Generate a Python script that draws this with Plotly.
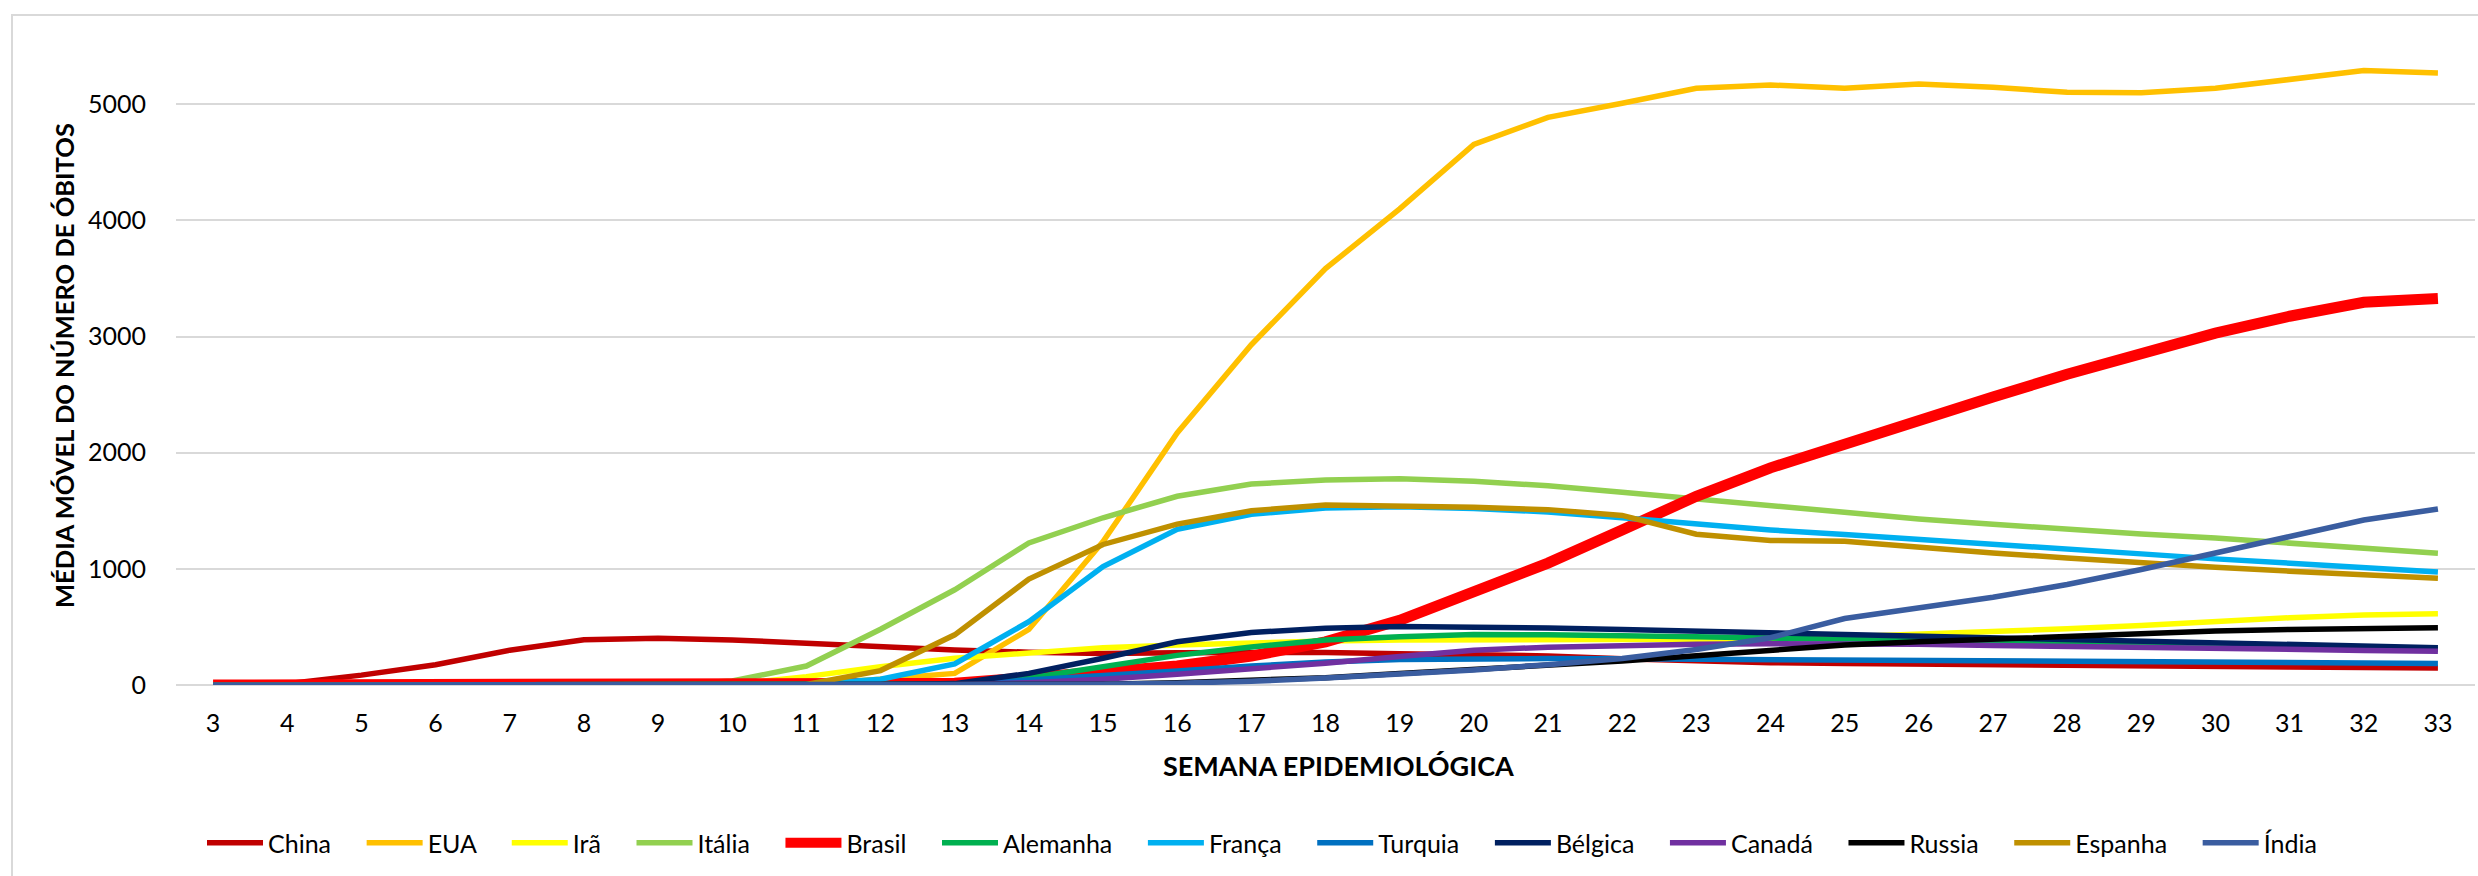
import plotly.graph_objects as go

weeks = list(range(3, 34))

china    = [0, 12, 85, 175, 300, 390, 402, 388, 360, 326, 302, 282, 272, 278, 284, 280, 270, 264, 250, 225, 205, 192, 185, 178, 172, 167, 162, 158, 154, 150, 146]
eua      = [0, 0, 0, 0, 0, 0, 0, 0, 8, 50, 100, 478, 1235, 2170, 2930, 3585, 4100, 4655, 4888, 5009, 5138, 5166, 5138, 5175, 5146, 5103, 5100, 5138, 5215, 5290, 5270]
ira      = [0, 0, 0, 0, 0, 0, 0, 5, 72, 158, 231, 280, 320, 345, 365, 378, 387, 388, 386, 382, 384, 395, 415, 437, 452, 484, 513, 550, 579, 602, 613]
italia   = [0, 0, 0, 0, 0, 0, 0, 35, 163, 480, 820, 1223, 1440, 1625, 1730, 1765, 1775, 1755, 1715, 1660, 1600, 1545, 1490, 1430, 1385, 1340, 1300, 1265, 1225, 1180, 1135]
brasil   = [0, 0, 0, 0, 0, 0, 0, 0, 0, 2, 15, 62, 110, 163, 249, 372, 557, 800, 1050, 1335, 1625, 1870, 2080, 2290, 2480, 2675, 2860, 3030, 3175, 3295, 3328]
alemanha = [0, 0, 0, 0, 0, 0, 0, 0, 0, 2, 8, 60, 163, 255, 327, 387, 415, 435, 432, 427, 415, 404, 392, 385, 372, 360, 348, 337, 326, 316, 306]
franca   = [0, 0, 0, 0, 0, 0, 0, 0, 5, 50, 182, 545, 1020, 1340, 1470, 1525, 1535, 1520, 1490, 1440, 1385, 1335, 1295, 1255, 1218, 1172, 1129, 1086, 1046, 1009, 974]
turquia  = [0, 0, 0, 0, 0, 0, 0, 0, 0, 0, 5, 43, 77, 120, 163, 198, 220, 229, 228, 226, 222, 218, 215, 212, 210, 205, 202, 198, 195, 190, 186]
belgica  = [0, 0, 0, 0, 0, 0, 0, 0, 0, 2, 12, 100, 230, 372, 452, 488, 503, 499, 490, 477, 462, 446, 432, 417, 402, 386, 371, 358, 347, 335, 321]
canada   = [0, 0, 0, 0, 0, 0, 0, 0, 0, 0, 3, 20, 50, 92, 137, 188, 246, 300, 325, 340, 350, 356, 358, 350, 341, 330, 321, 312, 306, 298, 290]
russia   = [0, 0, 0, 0, 0, 0, 0, 0, 0, 0, 0, 2, 6, 20, 36, 63, 100, 135, 166, 206, 252, 298, 345, 372, 395, 421, 444, 464, 478, 490, 493]
espanha  = [0, 0, 0, 0, 0, 0, 0, 0, 5, 124, 432, 912, 1210, 1385, 1500, 1550, 1545, 1530, 1510, 1460, 1298, 1244, 1238, 1182, 1137, 1094, 1051, 1014, 980, 951, 920]
india    = [0, 0, 0, 0, 0, 0, 0, 0, 0, 0, 0, 3, 6, 16, 32, 60, 94, 130, 175, 228, 305, 407, 572, 665, 755, 865, 994, 1137, 1281, 1420, 1516]

names  = ["China", "EUA", "Irã", "Itália", "Brasil", "Alemanha", "França", "Turquia", "Bélgica", "Canadá", "Russia", "Espanha", "Índia"]
series = [china, eua, ira, italia, brasil, alemanha, franca, turquia, belgica, canada, russia, espanha, india]
colors = ["#C00000", "#FFC000", "#FFFF00", "#92D050", "#FF0000", "#00B050", "#00B0F0", "#0070C0", "#002060", "#7030A0", "#000000", "#BF9000", "#3A5DA0"]
widths = [5.5, 5.5, 5.5, 5.5, 11, 5.5, 5.5, 5.5, 5.5, 5.5, 5.5, 5.5, 5.5]

y_ticks = [0, 1000, 2000, 3000, 4000, 5000]

FONT = "Lato, 'Open Sans', sans-serif"
PAD = "\u00a0\u00a0\u00a0\u00a0"

fig = go.Figure()
for name, vals, col, w in zip(names, series, colors, widths):
    fig.add_trace(go.Scatter(
        x=weeks, y=vals, name=name + PAD, mode="lines",
        line=dict(color=col, width=w),
    ))

W, H = 2478, 876
L, R, T, B = 176, 3, 23, 191
pw, ph = W - L - R, H - T - B

def px(x):
    return (x - L) / pw

def py(y):
    return (H - B - y) / ph

fig.update_layout(
    width=W, height=H,
    margin=dict(l=L, r=R, t=T, b=B),
    paper_bgcolor="white", plot_bgcolor="white",
    font=dict(family=FONT, size=25, color="#000000"),
    showlegend=True,
    legend=dict(
        orientation="h", x=px(202), xanchor="left", y=py(843), yanchor="middle",
        font=dict(family=FONT, size=25, color="#000000"),
        itemwidth=56, bgcolor="rgba(0,0,0,0)", traceorder="normal",
    ),
    xaxis=dict(
        range=[2.5, 33.5], tickmode="array", tickvals=weeks,
        ticktext=[str(w) for w in weeks],
        showgrid=False, zeroline=False, showline=False,
        ticks="outside", ticklen=16, tickcolor="rgba(0,0,0,0)",
        tickfont=dict(family=FONT, size=25, color="#000000"),
    ),
    yaxis=dict(
        range=[0, 5700], tickmode="array", tickvals=y_ticks,
        ticktext=[str(v) for v in y_ticks],
        showgrid=True, gridcolor="#D9D9D9", gridwidth=2,
        zeroline=True, zerolinecolor="#D9D9D9", zerolinewidth=2,
        showline=False,
        ticks="outside", ticklen=24, tickcolor="rgba(0,0,0,0)",
        tickfont=dict(family=FONT, size=25, color="#000000"),
    ),
    shapes=[dict(
        type="rect", xref="paper", yref="paper",
        x0=px(12), x1=px(2495), y0=py(15), y1=py(900),
        line=dict(color="#D9D9D9", width=2), fillcolor="rgba(0,0,0,0)",
        layer="below",
    )],
    annotations=[
        dict(text="<b>MÉDIA MÓVEL DO NÚMERO DE ÓBITOS</b>", xref="paper", yref="paper",
             x=px(64), y=py(366), textangle=-90, showarrow=False,
             xanchor="center", yanchor="middle",
             font=dict(family=FONT, size=25.5, color="#000000")),
        dict(text="<b>SEMANA EPIDEMIOLÓGICA</b>", xref="paper", yref="paper",
             x=px(1338), y=py(765), showarrow=False,
             xanchor="center", yanchor="middle",
             font=dict(family=FONT, size=27, color="#000000")),
    ],
)

fig.write_html(
    "out.html",
    config={"displayModeBar": False},
    post_script="document.body.style.margin='0';document.body.style.padding='0';document.body.style.overflow='hidden';",
)
